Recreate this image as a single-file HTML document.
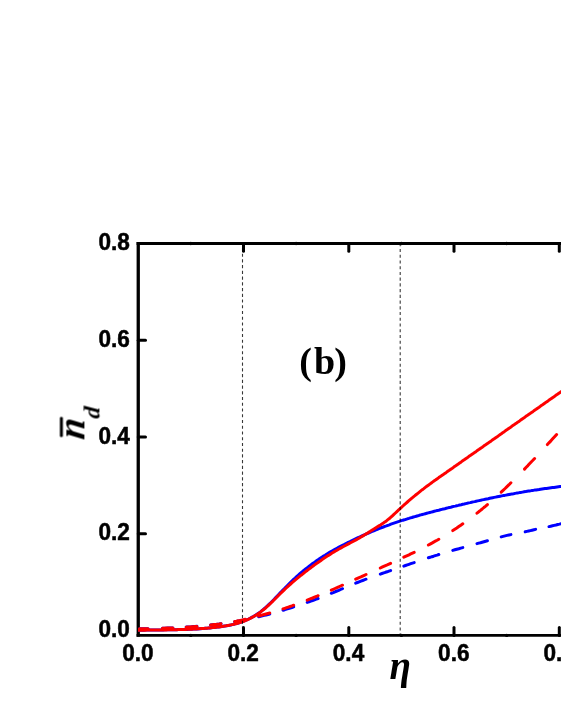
<!DOCTYPE html>
<html><head><meta charset="utf-8"><title>chart</title>
<style>html,body{margin:0;padding:0;background:#fff;overflow:hidden;}svg{display:block;}</style>
</head><body>
<svg width="561" height="726" viewBox="0 0 561 726">
<defs><filter id="sf" x="-20%" y="-20%" width="140%" height="140%" color-interpolation-filters="sRGB"><feGaussianBlur stdDeviation="0.3"/></filter></defs>
<rect width="561" height="726" fill="#fff"/>
<g stroke="#000" fill="none">
<line x1="138.25" y1="242.1" x2="138.25" y2="636.8" stroke-width="3.3"/>
<line x1="136.6" y1="243.5" x2="566" y2="243.5" stroke-width="2.8"/>
<line x1="136.6" y1="635.4" x2="566" y2="635.4" stroke-width="2.8"/>
</g>
<g stroke="#000" stroke-width="3" stroke-linecap="round">
<line x1="243.5" y1="243.5" x2="243.5" y2="251.3"/>
<line x1="243.5" y1="635.4" x2="243.5" y2="627.6"/>
<line x1="348.8" y1="243.5" x2="348.8" y2="251.3"/>
<line x1="348.8" y1="635.4" x2="348.8" y2="627.6"/>
<line x1="454.0" y1="243.5" x2="454.0" y2="251.3"/>
<line x1="454.0" y1="635.4" x2="454.0" y2="627.6"/>
<line x1="559.3" y1="243.5" x2="559.3" y2="251.3"/>
<line x1="559.3" y1="635.4" x2="559.3" y2="627.6"/>
<line x1="138.25" y1="533.7" x2="145.5" y2="533.7"/>
<line x1="138.25" y1="437.0" x2="145.5" y2="437.0"/>
<line x1="138.25" y1="340.2" x2="145.5" y2="340.2"/>
</g>
<circle cx="190.8" cy="243.5" r="1.7" fill="#000"/><circle cx="190.8" cy="635.4" r="1.7" fill="#000"/>
<circle cx="296.1" cy="243.5" r="1.7" fill="#000"/><circle cx="296.1" cy="635.4" r="1.7" fill="#000"/>
<circle cx="401.4" cy="243.5" r="1.7" fill="#000"/><circle cx="401.4" cy="635.4" r="1.7" fill="#000"/>
<circle cx="506.7" cy="243.5" r="1.7" fill="#000"/><circle cx="506.7" cy="635.4" r="1.7" fill="#000"/>
<g fill="none" stroke-width="3" stroke-linejoin="round">
<path d="M139.4 628.8 L141.1 628.8 L142.8 628.8 L144.6 628.7 L146.3 628.7 L148.0 628.7 M162.5 628.3 L164.2 628.2 L166.0 628.2 L167.7 628.1 L169.4 628.0 L171.2 627.9 L172.9 627.9 M186.2 627.1 L188.0 627.0 L189.8 626.9 L191.6 626.8 L193.3 626.6 L195.1 626.5 L196.9 626.3 M210.6 625.0 L212.3 624.8 L214.1 624.6 L215.8 624.4 L217.5 624.2 L219.3 624.0 L221.0 623.7 M234.7 621.7 L236.4 621.4 L238.2 621.1 L239.9 620.7 L241.7 620.4 L243.5 620.1 L245.2 619.7 M258.7 616.8 L260.5 616.3 L262.4 615.9 L264.2 615.4 L266.0 615.0 L267.9 614.5 L269.7 614.0 M283.0 610.2 L284.8 609.7 L286.6 609.1 L288.4 608.6 L290.1 608.0 L291.9 607.5 L293.7 606.9 M307.2 602.4 L309.0 601.8 L310.8 601.1 L312.6 600.5 L314.5 599.8 L316.3 599.2 L318.1 598.5 M331.3 593.3 L333.2 592.6 L335.0 591.8 L336.9 591.0 L338.8 590.3 L340.6 589.5 L342.5 588.7 M355.7 583.2 L357.4 582.5 L359.1 581.8 L360.9 581.1 L362.6 580.5 L364.3 579.8 L366.0 579.2 M380.3 574.1 L382.0 573.5 L383.7 572.9 L385.5 572.3 L387.2 571.8 L388.9 571.2 L390.6 570.6 M403.8 566.1 L405.5 565.5 L407.3 564.9 L409.0 564.3 L410.7 563.7 L412.5 563.1 L414.2 562.6 M428.4 557.8 L430.1 557.3 L431.9 556.7 L433.6 556.2 L435.3 555.6 L437.1 555.1 L438.8 554.5 M452.8 550.4 L454.8 549.8 L456.8 549.2 L458.8 548.7 L460.8 548.1 L462.8 547.6 M477.0 543.6 L478.7 543.1 L480.5 542.7 L482.2 542.2 L483.9 541.7 L485.7 541.2 L487.4 540.7 M501.2 536.9 L503.1 536.4 L505.1 535.9 L507.0 535.4 L509.0 535.0 L510.9 534.6 M525.2 531.8 L526.9 531.4 L528.7 531.0 L530.4 530.6 L532.1 530.2 L533.9 529.8 L535.6 529.4 M549.0 526.6 L550.8 526.2 L552.5 525.8 L554.3 525.4 L556.0 525.0 L557.8 524.5 L559.5 524.1 L561.3 523.6" stroke="#0000ff" stroke-linecap="round"/>
<path d="M138.0 630.3 L139.5 630.3 L141.0 630.3 L142.5 630.2 L144.0 630.2 L145.5 630.1 L147.0 630.1 L148.5 630.1 L150.0 630.1 L151.5 630.0 L153.0 630.0 L154.5 630.0 L156.0 630.0 L157.5 629.9 L159.0 629.9 L160.4 629.9 L161.9 629.9 L163.4 629.9 L164.9 629.8 L166.4 629.8 L167.9 629.8 L169.4 629.8 L170.9 629.8 L172.4 629.7 L173.9 629.7 L175.4 629.7 L176.9 629.7 L178.4 629.6 L179.9 629.6 L181.4 629.5 L182.9 629.5 L184.4 629.5 L185.9 629.4 L187.4 629.4 L188.9 629.3 L190.4 629.2 L191.9 629.2 L193.4 629.1 L194.9 629.0 L196.4 629.0 L197.9 628.9 L199.4 628.8 L200.9 628.7 L202.3 628.6 L203.8 628.5 L205.3 628.3 L206.8 628.2 L208.3 628.1 L209.8 627.9 L211.3 627.8 L212.8 627.6 L214.3 627.5 L215.8 627.3 L217.3 627.1 L218.8 626.9 L220.3 626.7 L221.8 626.5 L223.3 626.3 L224.8 626.1 L226.3 625.8 L227.8 625.5 L229.3 625.3 L230.8 625.0 L232.3 624.6 L233.8 624.3 L235.3 623.9 L236.8 623.5 L238.3 623.0 L239.8 622.6 L241.3 622.1 L242.8 621.5 L244.3 620.9 L245.7 620.3 L247.2 619.7 L248.7 619.0 L250.2 618.2 L251.7 617.4 L253.2 616.6 L254.7 615.7 L256.2 614.7 L257.7 613.7 L259.2 612.7 L260.7 611.6 L262.2 610.4 L263.7 609.2 L265.2 607.9 L266.7 606.5 L268.2 605.1 L269.7 603.7 L271.2 602.2 L272.7 600.7 L274.2 599.2 L275.7 597.6 L277.2 596.1 L278.7 594.5 L280.2 592.9 L281.7 591.4 L283.2 589.8 L284.7 588.3 L286.2 586.7 L287.7 585.2 L289.1 583.8 L290.6 582.3 L292.1 580.9 L293.6 579.4 L295.1 578.1 L296.6 576.7 L298.1 575.3 L299.6 574.0 L301.1 572.7 L302.6 571.5 L304.1 570.2 L305.6 569.0 L307.1 567.8 L308.6 566.6 L310.1 565.5 L311.6 564.3 L313.1 563.2 L314.6 562.2 L316.1 561.1 L317.6 560.1 L319.1 559.0 L320.6 558.0 L322.1 557.1 L323.6 556.1 L325.1 555.2 L326.6 554.2 L328.1 553.3 L329.6 552.4 L331.0 551.6 L332.5 550.7 L334.0 549.9 L335.5 549.0 L337.0 548.2 L338.5 547.4 L340.0 546.6 L341.5 545.8 L343.0 545.0 L344.5 544.3 L346.0 543.5 L347.5 542.7 L349.0 542.0 L350.5 541.3 L352.0 540.5 L353.5 539.8 L355.0 539.1 L356.5 538.4 L358.0 537.7 L359.5 537.0 L361.0 536.3 L362.5 535.6 L364.0 535.0 L365.5 534.3 L367.0 533.6 L368.5 533.0 L370.0 532.4 L371.5 531.7 L373.0 531.1 L374.4 530.5 L375.9 529.9 L377.4 529.3 L378.9 528.7 L380.4 528.1 L381.9 527.5 L383.4 527.0 L384.9 526.4 L386.4 525.9 L387.9 525.3 L389.4 524.8 L390.9 524.2 L392.4 523.7 L393.9 523.2 L395.4 522.7 L396.9 522.2 L398.4 521.7 L399.9 521.2 L401.4 520.7 L402.9 520.2 L404.4 519.8 L405.9 519.3 L407.4 518.8 L408.9 518.4 L410.4 517.9 L411.9 517.5 L413.4 517.0 L414.9 516.6 L416.3 516.2 L417.8 515.8 L419.3 515.3 L420.8 514.9 L422.3 514.5 L423.8 514.1 L425.3 513.7 L426.8 513.3 L428.3 512.9 L429.8 512.5 L431.3 512.1 L432.8 511.7 L434.3 511.3 L435.8 510.9 L437.3 510.5 L438.8 510.2 L440.3 509.8 L441.8 509.4 L443.3 509.0 L444.8 508.7 L446.3 508.3 L447.8 507.9 L449.3 507.5 L450.8 507.2 L452.3 506.8 L453.8 506.4 L455.3 506.1 L456.8 505.7 L458.3 505.4 L459.7 505.0 L461.2 504.7 L462.7 504.3 L464.2 504.0 L465.7 503.6 L467.2 503.3 L468.7 502.9 L470.2 502.6 L471.7 502.2 L473.2 501.9 L474.7 501.6 L476.2 501.2 L477.7 500.9 L479.2 500.6 L480.7 500.3 L482.2 499.9 L483.7 499.6 L485.2 499.3 L486.7 499.0 L488.2 498.7 L489.7 498.3 L491.2 498.0 L492.7 497.7 L494.2 497.4 L495.7 497.1 L497.2 496.8 L498.7 496.5 L500.2 496.2 L501.7 495.9 L503.1 495.6 L504.6 495.4 L506.1 495.1 L507.6 494.8 L509.1 494.5 L510.6 494.2 L512.1 493.9 L513.6 493.7 L515.1 493.4 L516.6 493.1 L518.1 492.9 L519.6 492.6 L521.1 492.4 L522.6 492.1 L524.1 491.8 L525.6 491.6 L527.1 491.3 L528.6 491.1 L530.1 490.9 L531.6 490.6 L533.1 490.4 L534.6 490.1 L536.1 489.9 L537.6 489.7 L539.1 489.5 L540.6 489.2 L542.1 489.0 L543.6 488.8 L545.0 488.6 L546.5 488.4 L548.0 488.2 L549.5 488.0 L551.0 487.8 L552.5 487.6 L554.0 487.4 L555.5 487.2 L557.0 487.0 L558.5 486.8 L560.0 486.6 L561.5 486.4 L563.0 486.3 L564.5 486.1 L566.0 485.9" stroke="#0000ff"/>
<path d="M139.4 628.8 L141.1 628.8 L142.8 628.8 L144.6 628.7 L146.3 628.7 L148.0 628.7 M162.5 628.3 L164.2 628.2 L166.0 628.1 L167.7 628.1 L169.4 628.0 L171.2 627.9 L172.9 627.9 M186.2 627.2 L188.0 627.0 L189.8 626.9 L191.6 626.8 L193.3 626.7 L195.1 626.5 L196.9 626.4 M210.6 625.0 L212.3 624.8 L214.1 624.6 L215.8 624.4 L217.5 624.2 L219.3 624.0 L221.0 623.7 M234.7 621.5 L236.4 621.2 L238.2 620.8 L239.9 620.5 L241.7 620.1 L243.5 619.7 L245.2 619.3 M258.7 616.0 L260.5 615.5 L262.4 615.0 L264.2 614.5 L266.0 614.0 L267.9 613.5 L269.7 613.0 M283.0 608.9 L284.8 608.3 L286.6 607.7 L288.4 607.1 L290.1 606.5 L291.9 605.9 L293.7 605.2 M307.2 600.1 L309.0 599.4 L310.8 598.7 L312.6 598.0 L314.5 597.2 L316.3 596.5 L318.1 595.7 M331.3 590.1 L333.2 589.3 L335.0 588.5 L336.9 587.7 L338.8 586.8 L340.6 586.0 L342.5 585.2 M355.7 579.2 L357.4 578.4 L359.1 577.6 L360.9 576.9 L362.6 576.1 L364.3 575.3 L366.0 574.5 M380.3 568.0 L382.0 567.2 L383.7 566.4 L385.5 565.6 L387.2 564.9 L388.9 564.1 L390.6 563.3 M403.8 557.2 L405.5 556.4 L407.3 555.6 L409.0 554.8 L410.7 553.9 L412.5 553.1 L414.2 552.3 M428.4 545.0 L430.1 544.1 L431.9 543.1 L433.6 542.1 L435.3 541.2 L437.1 540.2 L438.8 539.2 M452.8 530.6 L454.8 529.3 L456.8 528.0 L458.8 526.6 L460.8 525.2 L462.8 523.8 M477.0 513.2 L478.7 511.8 L480.5 510.4 L482.2 509.0 L483.9 507.5 L485.7 506.1 L487.4 504.6 M501.2 492.1 L503.1 490.3 L505.1 488.5 L507.0 486.6 L509.0 484.7 L510.9 482.8 M524.5 469.1 L526.2 467.3 L527.9 465.6 L529.5 463.8 L531.2 462.0 L532.9 460.3 L534.6 458.5 M547.4 444.6 L549.2 442.6 L551.1 440.6 L552.9 438.6 L554.8 436.5 L556.6 434.5" stroke="#ff0000" stroke-linecap="round"/>
<path d="M138.0 630.3 L139.5 630.3 L141.0 630.2 L142.5 630.2 L144.0 630.2 L145.5 630.2 L147.0 630.1 L148.5 630.1 L150.0 630.1 L151.5 630.1 L153.0 630.0 L154.5 630.0 L156.0 630.0 L157.5 630.0 L159.0 630.0 L160.4 629.9 L161.9 629.9 L163.4 629.9 L164.9 629.9 L166.4 629.9 L167.9 629.8 L169.4 629.8 L170.9 629.8 L172.4 629.8 L173.9 629.7 L175.4 629.7 L176.9 629.7 L178.4 629.6 L179.9 629.6 L181.4 629.6 L182.9 629.5 L184.4 629.5 L185.9 629.4 L187.4 629.3 L188.9 629.3 L190.4 629.2 L191.9 629.2 L193.4 629.1 L194.9 629.0 L196.4 628.9 L197.9 628.8 L199.4 628.7 L200.9 628.6 L202.3 628.5 L203.8 628.4 L205.3 628.3 L206.8 628.2 L208.3 628.0 L209.8 627.9 L211.3 627.7 L212.8 627.6 L214.3 627.4 L215.8 627.3 L217.3 627.1 L218.8 626.9 L220.3 626.7 L221.8 626.5 L223.3 626.3 L224.8 626.0 L226.3 625.8 L227.8 625.5 L229.3 625.2 L230.8 624.9 L232.3 624.6 L233.8 624.3 L235.3 623.9 L236.8 623.5 L238.3 623.1 L239.8 622.6 L241.3 622.1 L242.8 621.6 L244.3 621.0 L245.7 620.4 L247.2 619.8 L248.7 619.1 L250.2 618.4 L251.7 617.6 L253.2 616.8 L254.7 615.9 L256.2 615.0 L257.7 614.0 L259.2 613.0 L260.7 611.9 L262.2 610.7 L263.7 609.5 L265.2 608.3 L266.7 606.9 L268.2 605.6 L269.7 604.2 L271.2 602.7 L272.7 601.3 L274.2 599.8 L275.7 598.3 L277.2 596.8 L278.7 595.3 L280.2 593.8 L281.7 592.3 L283.2 590.9 L284.7 589.4 L286.2 588.0 L287.7 586.6 L289.1 585.3 L290.6 584.0 L292.1 582.7 L293.6 581.4 L295.1 580.1 L296.6 578.9 L298.1 577.7 L299.6 576.4 L301.1 575.2 L302.6 574.1 L304.1 572.9 L305.6 571.7 L307.1 570.5 L308.6 569.4 L310.1 568.3 L311.6 567.1 L313.1 566.0 L314.6 564.9 L316.1 563.8 L317.6 562.8 L319.1 561.7 L320.6 560.7 L322.1 559.6 L323.6 558.6 L325.1 557.6 L326.6 556.6 L328.1 555.6 L329.6 554.7 L331.0 553.7 L332.5 552.8 L334.0 551.9 L335.5 551.0 L337.0 550.2 L338.5 549.3 L340.0 548.5 L341.5 547.6 L343.0 546.8 L344.5 546.0 L346.0 545.2 L347.5 544.4 L349.0 543.6 L350.5 542.8 L352.0 542.0 L353.5 541.2 L355.0 540.4 L356.5 539.6 L358.0 538.8 L359.5 537.9 L361.0 537.0 L362.5 536.1 L364.0 535.2 L365.5 534.3 L367.0 533.4 L368.5 532.4 L370.0 531.5 L371.5 530.5 L373.0 529.6 L374.4 528.7 L375.9 527.7 L377.4 526.8 L378.9 525.9 L380.4 525.0 L381.9 524.0 L383.4 523.0 L384.9 521.9 L386.4 520.9 L387.9 519.7 L389.4 518.5 L390.9 517.2 L392.4 515.8 L393.9 514.4 L395.4 513.0 L396.9 511.6 L398.4 510.2 L399.9 508.8 L401.4 507.4 L402.9 506.0 L404.4 504.6 L405.9 503.3 L407.4 502.0 L408.9 500.7 L410.4 499.4 L411.9 498.1 L413.4 496.9 L414.9 495.7 L416.3 494.5 L417.8 493.3 L419.3 492.1 L420.8 490.9 L422.3 489.7 L423.8 488.6 L425.3 487.4 L426.8 486.3 L428.3 485.2 L429.8 484.1 L431.3 483.0 L432.8 481.9 L434.3 480.8 L435.8 479.8 L437.3 478.7 L438.8 477.6 L440.3 476.6 L441.8 475.5 L443.3 474.5 L444.8 473.4 L446.3 472.4 L447.8 471.3 L449.3 470.3 L450.8 469.2 L452.3 468.2 L453.8 467.1 L455.3 466.1 L456.8 465.0 L458.3 464.0 L459.7 462.9 L461.2 461.9 L462.7 460.8 L464.2 459.8 L465.7 458.7 L467.2 457.7 L468.7 456.6 L470.2 455.6 L471.7 454.5 L473.2 453.5 L474.7 452.4 L476.2 451.4 L477.7 450.3 L479.2 449.3 L480.7 448.2 L482.2 447.2 L483.7 446.1 L485.2 445.1 L486.7 444.0 L488.2 443.0 L489.7 441.9 L491.2 440.9 L492.7 439.8 L494.2 438.8 L495.7 437.7 L497.2 436.7 L498.7 435.6 L500.2 434.5 L501.7 433.5 L503.1 432.4 L504.6 431.4 L506.1 430.3 L507.6 429.3 L509.1 428.2 L510.6 427.2 L512.1 426.1 L513.6 425.1 L515.1 424.0 L516.6 423.0 L518.1 421.9 L519.6 420.9 L521.1 419.8 L522.6 418.7 L524.1 417.7 L525.6 416.6 L527.1 415.6 L528.6 414.5 L530.1 413.5 L531.6 412.4 L533.1 411.4 L534.6 410.3 L536.1 409.3 L537.6 408.2 L539.1 407.2 L540.6 406.1 L542.1 405.1 L543.6 404.0 L545.0 403.0 L546.5 401.9 L548.0 400.9 L549.5 399.8 L551.0 398.8 L552.5 397.7 L554.0 396.7 L555.5 395.6 L557.0 394.6 L558.5 393.5 L560.0 392.5 L561.5 391.4 L563.0 390.4 L564.5 389.3 L566.0 388.3" stroke="#ff0000"/>
</g>
<line x1="242.5" y1="247.9" x2="242.5" y2="634" stroke="#000" stroke-opacity="0.78" stroke-width="1.1" stroke-dasharray="3.1 2.635"/>
<line x1="400.2" y1="243.2" x2="400.2" y2="634" stroke="#000" stroke-opacity="0.78" stroke-width="1.1" stroke-dasharray="3.1 2.635"/>
<g font-family="'Liberation Sans', sans-serif" font-weight="bold" font-size="22.6px" fill="#000" stroke="#000" stroke-width="0.5" stroke-linejoin="round" filter="url(#sf)">
<text transform="translate(129.8 637.1) scale(1 1.025)" text-anchor="end">0.0</text>
<text transform="translate(129.8 540.4) scale(1 1.025)" text-anchor="end">0.2</text>
<text transform="translate(129.8 443.7) scale(1 1.025)" text-anchor="end">0.4</text>
<text transform="translate(129.8 347.0) scale(1 1.025)" text-anchor="end">0.6</text>
<text transform="translate(129.8 250.3) scale(1 1.025)" text-anchor="end">0.8</text>
<text transform="translate(137.9 661.2) scale(1 1.03)" text-anchor="middle">0.0</text>
<text transform="translate(243.2 661.2) scale(1 1.03)" text-anchor="middle">0.2</text>
<text transform="translate(348.5 661.2) scale(1 1.03)" text-anchor="middle">0.4</text>
<text transform="translate(453.8 661.2) scale(1 1.03)" text-anchor="middle">0.6</text>
<text transform="translate(559.1 661.2) scale(1 1.03)" text-anchor="middle">0.8</text>
</g>
<text x="299.3 313.9 334.3" y="373.6" font-family="'Liberation Serif', serif" font-weight="bold" font-size="38px" fill="#000" filter="url(#sf)">(b)</text>
<text x="389.5" y="678.6" font-family="'Liberation Serif', serif" font-weight="bold" font-style="italic" font-size="39px" fill="#000" filter="url(#sf)">&#951;</text>
<g transform="translate(85.4 440.5) rotate(-90)" font-family="'Liberation Serif', serif" font-weight="bold" font-style="italic" fill="#000" filter="url(#sf)">
<text font-size="39px" transform="translate(0.3 -1.0) scale(0.95 1) skewX(-8)">n</text>
<text transform="translate(21.6 14.3) scale(1.05 1) skewX(-4)" font-size="22.8px">d</text>
<rect x="3.5" y="-25.4" width="20" height="3" rx="1"/>
</g>
</svg>
</body></html>
